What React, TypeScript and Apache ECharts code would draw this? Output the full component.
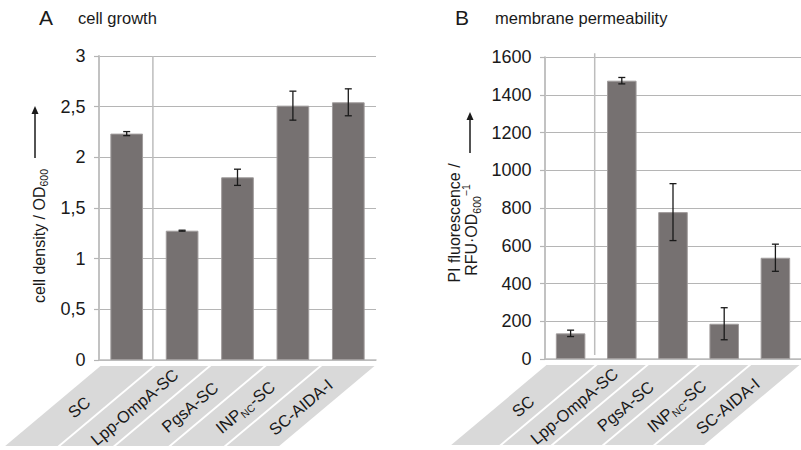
import React, { useEffect, useRef } from 'react';
import * as echarts from 'echarts';

// ---------- data ----------
const categories = ['SC', 'Lpp-OmpA-SC', 'PgsA-SC', 'INPNC-SC', 'SC-AIDA-I'];
const categoryLabels = ['SC', 'Lpp-OmpA-SC', 'PgsA-SC', 'INP{sub|NC}-SC', 'SC-AIDA-I'];

const growthValues = [2.234, 1.276, 1.803, 2.51, 2.543];
const growthErrors = [0.02, 0.005, 0.08, 0.143, 0.133];

const permValues = [136, 1476, 779, 187, 537];
const permErrors = [17, 17, 151, 85, 72];

const growthTicks = { min: 0, max: 3, interval: 0.5 };
const permTicks = { min: 0, max: 1600, interval: 200 };

const panelLetters = ['A', 'B'];
const panelTitles = ['cell growth', 'membrane permeability'];

// ---------- styles ----------
const FONT = '"Liberation Sans", Arial, Helvetica, sans-serif';
const TEXT = '#1a1a1a';
const BAR = '#767171';
const GRID_LINE = '#b5b5b5';
const BAND = '#d9d9d9';

function yAxis(gi: number, t: any, fmt: (v: number) => string) {
  return {
    type: 'value',
    gridIndex: gi,
    min: t.min,
    max: t.max,
    interval: t.interval,
    axisLine: { show: true, lineStyle: { color: '#c2c2c2', width: 2 } },
    axisTick: { show: true, length: 5, lineStyle: { color: GRID_LINE, width: 1.2 } },
    axisLabel: { fontSize: 18, color: TEXT, fontFamily: FONT, margin: 13.5, formatter: fmt },
    splitLine: { lineStyle: { color: GRID_LINE, width: 1.2 } },
  };
}

function xAxis(gi: number) {
  return {
    type: 'category',
    gridIndex: gi,
    data: categories,
    axisLine: { show: true, lineStyle: { color: '#bdbdbd', width: 1.5 } },
    axisTick: { show: false },
    axisLabel: { show: false },
    splitLine: { show: false },
  };
}

function barSeries(gi: number, values: number[], width: string) {
  return {
    type: 'bar',
    xAxisIndex: gi,
    yAxisIndex: gi,
    data: values,
    barWidth: width,
    itemStyle: { color: BAR, borderColor: '#a09c9c', borderWidth: 1 },
    z: 3,
  };
}

function errorSeries(gi: number, values: number[], errors: number[]) {
  return {
    type: 'custom',
    xAxisIndex: gi,
    yAxisIndex: gi,
    z: 6,
    data: values.map((v, i) => [i, v - errors[i], v + errors[i]]),
    encode: { x: 0, y: [1, 2] },
    renderItem: (_p: any, api: any) => {
      const lo = api.coord([api.value(0), api.value(1)]);
      const hi = api.coord([api.value(0), api.value(2)]);
      const cap = 3.5;
      const st = { stroke: '#1a1a1a', lineWidth: 1.3 };
      return {
        type: 'group',
        children: [
          { type: 'line', shape: { x1: lo[0], y1: lo[1], x2: hi[0], y2: hi[1] }, style: st },
          { type: 'line', shape: { x1: lo[0] - cap, y1: lo[1], x2: lo[0] + cap, y2: lo[1] }, style: st },
          { type: 'line', shape: { x1: hi[0] - cap, y1: hi[1], x2: hi[0] + cap, y2: hi[1] }, style: st },
        ],
      };
    },
  };
}

export default function App() {
  const ref = useRef<HTMLDivElement>(null);

  useEffect(() => {
    document.body.style.margin = '0';
    if (!ref.current) return;
    const chart = echarts.init(ref.current, undefined, { renderer: 'svg' });

    chart.setOption({
      animation: false,
      backgroundColor: '#ffffff',
      grid: [
        { left: 99, top: 56, width: 277, height: 304 },
        { left: 545, top: 57.3, width: 260, height: 301.7 },
      ],
      xAxis: [xAxis(0), xAxis(1)],
      yAxis: [
        yAxis(0, growthTicks, (v: number) => String(v).replace('.', ',')),
        yAxis(1, permTicks, (v: number) => String(v)),
      ],
      series: [
        barSeries(0, growthValues, '59%'),
        errorSeries(0, growthValues, growthErrors),
        barSeries(1, permValues, '57.7%'),
        errorSeries(1, permValues, permErrors),
      ],
    });

    // decorations derived from the axes
    const graphic: any[] = [];
    const ang = (40 * Math.PI) / 180;
    const richSub = { sub: { fontSize: 10.5, fontFamily: FONT, fill: TEXT, verticalAlign: 'bottom' } };

    [0, 1].forEach((gi) => {
      const ticks = gi === 0 ? growthTicks : permTicks;
      const p0 = chart.convertToPixel({ gridIndex: gi }, [0, ticks.min]) as number[];
      const p1 = chart.convertToPixel({ gridIndex: gi }, [1, ticks.max]) as number[];
      const bw = p1[0] - p0[0];
      const yBottom = p0[1];
      const yTop = p1[1];
      const b = (k: number) => p0[0] - bw / 2 + k * bw;

      // separator line between first and second category
      const off = gi === 0 ? 0 : 4;
      graphic.push({
        type: 'line',
        z: 10,
        shape: { x1: b(1) - 1.5, y1: yTop - off, x2: b(1) - 1.5, y2: yBottom - off },
        style: { stroke: '#bdbdbd', lineWidth: 1.5 },
      });

      // slanted label bands
      const top = yBottom + 6;
      const h = 80;
      const dx = h / Math.tan(ang);
      categoryLabels.forEach((lab, k) => {
        const l = b(k) + 1.5;
        const r = b(k + 1) - 1.5;
        graphic.push({
          type: 'polygon',
          z: 1,
          shape: { points: [[l, top], [r, top], [r - dx, top + h], [l - dx, top + h]] },
          style: { fill: BAND },
        });
        graphic.push({
          type: 'text',
          z: 12,
          x: (l + r) / 2 - dx / 2,
          y: top + h / 2 + 1,
          rotation: ang,
          style: {
            text: lab,
            fontSize: 16.5,
            fontFamily: FONT,
            fill: TEXT,
            align: 'center',
            verticalAlign: 'middle',
            lineHeight: 20,
            rich: richSub,
          },
        });
      });
    });

    // panel titles
    const letterX = [39, 455];
    const titleX = [78, 495];
    [0, 1].forEach((i) => {
      graphic.push({
        type: 'text',
        x: letterX[i],
        y: 28,
        style: { text: panelLetters[i], fontSize: 21, fontFamily: FONT, fill: TEXT, align: 'left', verticalAlign: 'bottom' },
      });
      graphic.push({
        type: 'text',
        x: titleX[i],
        y: 26,
        style: { text: panelTitles[i], fontSize: 16.5, fontFamily: FONT, fill: TEXT, align: 'left', verticalAlign: 'bottom' },
      });
    });

    // y-axis titles
    graphic.push({
      type: 'text',
      x: 39,
      y: 236,
      rotation: Math.PI / 2,
      style: {
        text: 'cell density / OD{sub|600}',
        fontSize: 16,
        fontFamily: FONT,
        fill: TEXT,
        align: 'center',
        verticalAlign: 'middle',
        lineHeight: 20,
        rich: richSub,
      },
    });
    graphic.push({
      type: 'text',
      x: 454,
      y: 223,
      rotation: Math.PI / 2,
      style: {
        text: 'PI fluorescence /',
        fontSize: 16,
        fontFamily: FONT,
        fill: TEXT,
        align: 'center',
        verticalAlign: 'middle',
      },
    });
    graphic.push({
      type: 'text',
      x: 471,
      y: 230,
      rotation: Math.PI / 2,
      style: {
        text: 'RFU·OD{sub|600}{sup|−1}',
        fontSize: 16,
        fontFamily: FONT,
        fill: TEXT,
        align: 'center',
        verticalAlign: 'middle',
        lineHeight: 22,
        rich: {
          sub: { fontSize: 10.5, fontFamily: FONT, fill: TEXT, verticalAlign: 'bottom' },
          sup: { fontSize: 10.5, fontFamily: FONT, fill: TEXT, verticalAlign: 'top' },
        },
      },
    });

    // arrows
    const arrows = [
      { x: 35, y1: 158, y2: 106 },
      { x: 470, y1: 153, y2: 112 },
    ];
    arrows.forEach((a) => {
      graphic.push({
        type: 'line',
        shape: { x1: a.x, y1: a.y1, x2: a.x, y2: a.y2 + 6 },
        style: { stroke: TEXT, lineWidth: 1.5 },
      });
      graphic.push({
        type: 'polygon',
        shape: { points: [[a.x, a.y2], [a.x - 3.5, a.y2 + 8], [a.x + 3.5, a.y2 + 8]] },
        style: { fill: TEXT },
      });
    });

    chart.setOption({ graphic });

    return () => chart.dispose();
  }, []);

  return <div ref={ref} style={{ width: 801, height: 450 }} />;
}
